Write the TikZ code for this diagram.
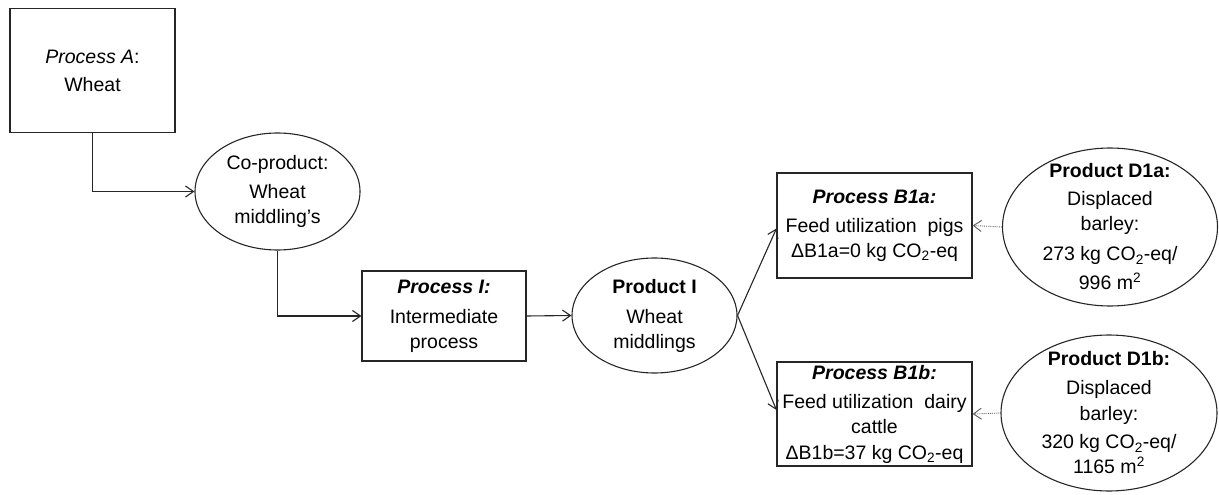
\documentclass[tikz,border=0pt]{standalone}
\usepackage{fontspec}
\setmainfont{Liberation Sans}
\usetikzlibrary{shapes.geometric,arrows.meta}
\begin{document}
\begin{tikzpicture}[x=1pt,y=-1pt,
  line width=1.1pt,
  boxnode/.style={draw=black!85,rectangle,inner sep=0pt},
  ovalnode/.style={draw=black!85,ellipse,inner sep=0pt},
  txt/.style={align=center,inner sep=0pt,text=black,
    font=\fontsize{19.5}{25}\selectfont},
  flow/.style={draw=black!85,line width=1.1pt,-{Straight Barb[length=8pt,width=11pt]}},
  credit/.style={draw=black!60,line width=0.9pt,densely dotted,
    -{Straight Barb[length=8pt,width=11pt,line width=1pt,sep=0pt]}}]
\useasboundingbox (0,0) rectangle (1219,495);

% process and product shapes
\node[boxnode,minimum width=165pt,minimum height=124pt] (A) at (92.5,70.5) {};
\node[ovalnode,minimum width=165pt,minimum height=117pt] (C) at (277.5,191.5) {};
\node[boxnode,minimum width=164pt,minimum height=90pt] (I) at (444,316) {};
\node[ovalnode,minimum width=165pt,minimum height=115pt] (P) at (654.5,315.5) {};
\node[boxnode,minimum width=195pt,minimum height=105pt] (B1a) at (874.5,225.5) {};
\node[boxnode,minimum width=195pt,minimum height=104pt] (B1b) at (874.5,414) {};
\node[ovalnode,minimum width=215pt,minimum height=158pt] (D1a) at (1110,227) {};
\node[ovalnode,minimum width=216pt,minimum height=156pt] (D1b) at (1109,413) {};

% labels
\node[txt] (tA) at (A.center) {\textit{Process A}:\\[3pt]Wheat};
\node[txt] (tC) at (C.center) {Co-product:\\[4pt]Wheat\\middling’s};
\node[txt] (tI) at (I.center) {\textbf{\textit{Process I:}}\\[5pt]Intermediate\\process};
\node[txt] (tP) at (P.center) {\textbf{Product I}\\[5pt]Wheat\\middlings};
\node[txt] (tB1a) at (B1a.center) {\textbf{\textit{Process B1a:}}\\[4pt]Feed utilization\ \ pigs\\ΔB1a=0 kg CO\textsubscript{2}-eq};
\node[txt] (tB1b) at (B1b.center) {\textbf{\textit{Process B1b:}}\\[4pt]Feed utilization\ \ dairy\\cattle\\[1pt]ΔB1b=37 kg CO\textsubscript{2}-eq};
\node[txt] (tD1a) at (D1a.center) {\textbf{Product D1a:}\\[3pt]Displaced\\barley:\\[5pt]273 kg CO\textsubscript{2}-eq/\\[4pt]996 m\textsuperscript{2}};
\node[txt] (tD1b) at (D1b.center) {\textbf{Product D1b:}\\[4pt]Displaced\\[1pt]barley:\\[3pt]320 kg CO\textsubscript{2}-eq/\\1165 m\textsuperscript{2}};

% material flow
\draw[flow] (A.south) |- (C.west);
\draw[flow] (C.south) |- (I.west);
\draw[flow] (I.east) -- (P.west);
\draw[flow] (P.east) -- ([yshift=-3pt]B1a.west);
\draw[flow] (P.east) -- ([yshift=4pt]B1b.west);

% displaced products
\draw[credit] (D1a.west) -- (B1a.east);
\draw[credit] (D1b.west) -- (B1b.east);
\end{tikzpicture}
\end{document}
